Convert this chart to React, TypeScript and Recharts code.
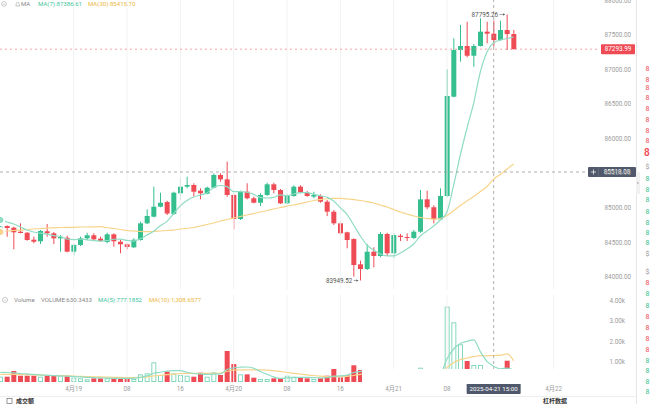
import React from "react";
import { Bar, ComposedChart, Line, ReferenceDot, ReferenceLine, XAxis, YAxis } from "recharts";

const FONT = "Roboto, 'Noto Sans', 'Noto Sans CJK SC', sans-serif";
const UP = "#35bf8e";
const DOWN = "#ef4b55";
const UP_LIGHT = "#86d9bd";
const MA_TEAL = "#8fdcc4";
const MA_GOLD = "#f8d48a";

// hourly candles, 2025-04-18 13:00 .. 2025-04-21 18:00
const opens = [
  84650, 84737, 84713, 84655, 84640, 84539, 84516, 84661, 84632, 84559,
  84568, 84366, 84463, 84559, 84603, 84554, 84506, 84617, 84510, 84473,
  84429, 84535, 84776, 84872, 85016, 85084, 84911, 85210, 85306, 85330,
  85248, 85204, 85291, 85475, 85412, 85186, 84838, 85233, 85138, 85074,
  85186, 85340, 85258, 85065, 85171, 85306, 85219, 85161, 85171, 85089,
  84944, 84776, 84646, 84549, 84183, 84115, 84366, 84304, 84622, 84343,
  84597, 84578, 84564, 84655, 85123, 85008, 84834, 85171, 86607, 87282,
  87340, 87199, 87340, 87547, 87518, 87426, 87571, 87513,
];
const highs = [
  84737, 84747, 84727, 84776, 84650, 84583, 84680, 84766, 84650, 84607,
  84597, 84477, 84583, 84640, 84632, 84583, 84640, 84632, 84535, 84487,
  84559, 84799, 84979, 85306, 85219, 85103, 85233, 85427, 85450, 85355,
  85282, 85306, 85499, 85499, 85667, 85195, 85248, 85355, 85161, 85210,
  85363, 85363, 85272, 85195, 85326, 85326, 85243, 85233, 85195, 85113,
  84969, 84799, 84655, 84559, 84236, 84477, 84429, 84650, 84640, 84632,
  84622, 84632, 84680, 85258, 85248, 85036, 85282, 87003, 87451, 87643,
  87691, 87369, 87740, 87691, 87706, 87706, 87795.26, 87571,
];
const lows = [
  84632, 84582, 84400, 84632, 84525, 84487, 84477, 84583, 84477, 84366,
  84357, 84314, 84448, 84535, 84525, 84510, 84487, 84438, 84343, 84400,
  84419, 84525, 84766, 84863, 85008, 84896, 84896, 85113, 85282, 85161,
  85123, 85195, 85282, 85378, 85161, 84690, 84824, 85123, 85065, 85026,
  85171, 85210, 85055, 85055, 85161, 85210, 85161, 85138, 85074, 84880,
  84752, 84607, 84415, 84004, 83949.52, 84101, 84140, 84285, 84304, 84270,
  84520, 84520, 84549, 84640, 84979, 84776, 84824, 85157, 86598, 87113,
  87176, 87040, 87333, 87379, 87330, 87416, 87282, 87290,
];
const closes = [
  84727, 84708, 84646, 84636, 84535, 84510, 84665, 84632, 84559, 84578,
  84366, 84463, 84559, 84603, 84545, 84520, 84617, 84516, 84473, 84434,
  84539, 84776, 84882, 85016, 85074, 84918, 85219, 85306, 85330, 85233,
  85210, 85291, 85475, 85412, 85186, 84838, 85233, 85138, 85074, 85186,
  85340, 85258, 85065, 85171, 85306, 85219, 85171, 85186, 85089, 84944,
  84776, 84632, 84535, 84173, 84115, 84366, 84304, 84622, 84343, 84607,
  84578, 84564, 84655, 85123, 85008, 84834, 85171, 86617, 87282, 87340,
  87199, 87340, 87547, 87518, 87426, 87571, 87513, 87293.99,
];
const ma7 = [
  84824, 84795, 84766, 84723, 84679, 84650, 84633, 84619, 84597, 84588,
  84549, 84539, 84546, 84538, 84525, 84519, 84525, 84546, 84548, 84529,
  84520, 84554, 84606, 84662, 84742, 84805, 84918, 85028, 85106, 85157,
  85184, 85216, 85295, 85323, 85306, 85235, 85235, 85225, 85194, 85152,
  85142, 85152, 85186, 85175, 85200, 85220, 85219, 85197, 85173, 85155,
  85099, 85002, 84905, 84752, 84593, 84463, 84390, 84333, 84304, 84304,
  84347, 84405, 84477, 84593, 84665, 84737, 84824, 84940, 85330, 85764,
  86154, 86515, 86964, 87253, 87386.61, 87426, 87448, 87470,
];
const ma30 = [
  84650, 84665, 84672, 84679, 84687, 84694, 84701, 84708, 84711, 84716,
  84718, 84718, 84723, 84723, 84726, 84727, 84716, 84701, 84687, 84672,
  84665, 84658, 84655, 84658, 84665, 84672, 84679, 84694, 84701, 84716,
  84737, 84759, 84781, 84810, 84831, 84853, 84875, 84896, 84918, 84940,
  84961, 84983, 85005, 85026, 85041, 85062, 85084, 85106, 85120, 85131,
  85138, 85138, 85128, 85120, 85106, 85091, 85070, 85041, 85012, 84976,
  84940, 84911, 84882, 84860, 84846, 84838, 84846, 84889, 84961, 85034,
  85099, 85164, 85236, 85308, 85415.7, 85482, 85561, 85634,
];
const volumes = [
  262, 262, 543, 311, 311, 311, 262, 311, 311, 311,
  311, 212, 180, 131, 180, 180, 180, 180, 180, 180,
  150, 378, 428, 971, 346, 510, 428, 346, 311, 262,
  461, 262, 477, 346, 1531, 889, 378, 378, 212, 150,
  150, 180, 180, 311, 262, 212, 180, 150, 180, 311,
  642, 232, 331, 825, 593, 520, 380, 560, 480, 450,
  250, 200, 300, 706, 420, 350, 320, 3720, 2949, 1862,
  1037, 840, 840, 538, 630.3433, 400, 1052, 300,
];
const volMa5 = [
  480, 470, 450, 420, 400, 380, 350, 330, 310, 300,
  290, 270, 250, 230, 212, 205, 190, 180, 180, 180,
  190, 230, 300, 430, 480, 540, 560, 560, 480, 420,
  400, 380, 390, 400, 620, 700, 730, 740, 680, 520,
  380, 250, 180, 200, 220, 230, 230, 220, 200, 210,
  290, 300, 340, 470, 520, 540, 520, 560, 500, 480,
  420, 380, 330, 380, 420, 400, 420, 1150, 1630, 1900,
  2010, 2080, 1500, 1020, 777.1852, 650, 690, 590,
];
const volMa10 = [
  380, 380, 380, 370, 360, 350, 340, 330, 320, 310,
  300, 290, 280, 270, 260, 250, 240, 230, 225, 220,
  220, 230, 250, 300, 330, 360, 390, 420, 430, 430,
  430, 430, 430, 440, 520, 590, 600, 600, 600, 600,
  590, 560, 520, 470, 430, 390, 350, 320, 290, 270,
  260, 260, 280, 320, 380, 420, 440, 450, 460, 470,
  450, 430, 400, 420, 430, 420, 400, 720, 967, 1108,
  1186, 1250, 1304, 1288, 1308.6577, 1314, 1387, 1045,
];

const SLOTS = 90;
const tickIndex = [11, 19, 27, 35, 43, 51, 59, 67, 83];
const tickLabels = ["4月19", "08", "16", "4月20", "08", "16", "4月21", "08", "4月22"];
const priceTicks = [84000, 84500, 85000, 85500, 86000, 86500, 87000, 87500, 88000];
const volTicks = [1000, 2000, 3000, 4000];
const lastPrice = 87293.99;
const crossPrice = 85518.08;
const crossIndex = 74;
const crossTime = "2025-04-21 15:00";
const highIndex = 76;
const lowIndex = 54;

const rows = Array.from({ length: SLOTS }, (_, i) =>
  i < opens.length
    ? {
        i,
        open: opens[i],
        high: highs[i],
        low: lows[i],
        close: closes[i],
        range: [lows[i], highs[i]],
        ma7: ma7[i],
        ma30: ma30[i],
        vol: volumes[i],
        volMa5: volMa5[i],
        volMa10: volMa10[i],
      }
    : { i }
);

const Candle = (props: any) => {
  const { x, y, width, height, payload } = props;
  if (!payload || payload.open == null) return <g />;
  const { open, close, high, low } = payload;
  const top = Math.min(y, y + height);
  const bot = Math.max(y, y + height);
  const span = high - low || 1;
  const pix = (v: number) => top + ((high - v) / span) * (bot - top);
  const cx = x + width / 2;
  const color = close >= open ? UP : DOWN;
  const bTop = pix(Math.max(open, close));
  const bBot = pix(Math.min(open, close));
  return (
    <g>
      <line x1={cx} x2={cx} y1={top} y2={bot} stroke={color} strokeWidth={1} />
      <rect x={cx - 2.5} y={bTop} width={5} height={Math.max(1, bBot - bTop)} fill={color} />
    </g>
  );
};

const VolBar = (props: any) => {
  const { x, y, width, height, payload } = props;
  if (!payload || payload.vol == null) return <g />;
  if (payload.close >= payload.open) {
    return (
      <rect x={x + 0.5} y={y + 0.5} width={width - 1} height={Math.max(0, height - 1)}
        fill="#fff" stroke={UP_LIGHT} strokeWidth={1} />
    );
  }
  return <rect x={x} y={y} width={width} height={height} fill={DOWN} />;
};

const PriceTick = (props: any) => (
  <text x={634} y={props.y} dy={2.2} textAnchor="end" fontSize={6.3} fill="#9b9b9b" fontFamily={FONT}>
    {Number(props.payload.value).toFixed(2)}
  </text>
);

const VolTick = (props: any) => (
  <text x={628} y={props.y} dy={2.2} textAnchor="end" fontSize={6.3} fill="#9b9b9b" fontFamily={FONT}>
    {(props.payload.value / 1000).toFixed(2)}k
  </text>
);

const TimeTick = (props: any) => {
  const k = tickIndex.indexOf(props.payload.value);
  return (
    <text x={props.x} y={100.5} textAnchor="middle" fontSize={6.3} fill="#9b9b9b" fontFamily={FONT}>
      {k >= 0 ? tickLabels[k] : ""}
    </text>
  );
};

const PriceTag = (p: any) => {
  const vb = p.viewBox || {};
  const right = vb.x + vb.width;
  return (
    <g>
      <rect x={right + 4} y={vb.y - 5} width={34} height={10} fill="#ef4b55" rx={1} />
      <text x={right + 21} y={vb.y + 2.2} textAnchor="middle" fontSize={6.3} fill="#fff" fontFamily={FONT}>
        {lastPrice.toFixed(2)}
      </text>
    </g>
  );
};

const CrossTag = (p: any) => {
  const vb = p.viewBox || {};
  const right = vb.x + vb.width;
  return (
    <g>
      <rect x={right - 9} y={vb.y - 5} width={48} height={10} fill="#4f596b" rx={1} />
      <line x1={right + 1.5} x2={right + 1.5} y1={vb.y - 5} y2={vb.y + 5} stroke="#6c7587" strokeWidth={0.6} />
      <path d={`M${right - 6} ${vb.y}h5M${right - 3.5} ${vb.y - 2.5}v5`} stroke="#fff" strokeWidth={0.7} />
      <text x={right + 20} y={vb.y + 2.2} textAnchor="middle" fontSize={6.3} fill="#fff" fontFamily={FONT}>
        {crossPrice.toFixed(2)}
      </text>
    </g>
  );
};

const TimeTag = (p: any) => {
  const vb = p.viewBox || {};
  const bottom = vb.y + vb.height;
  return (
    <g>
      <rect x={vb.x - 27} y={bottom + 1} width={54} height={11} fill="#4f596b" rx={1} />
      <text x={vb.x} y={bottom + 8.8} textAnchor="middle" fontSize={6.2} fill="#fff" fontFamily={FONT}>
        {crossTime}
      </text>
    </g>
  );
};

const Extreme = (label: string, gap: number) => (p: any) => (
  <g>
    <text x={p.cx - gap} y={p.cy + 2.2} textAnchor="end" fontSize={6.3} fill="#555" fontFamily={FONT}>
      {label}
    </text>
    <line x1={p.cx - gap + 1.5} x2={p.cx - 2} y1={p.cy} y2={p.cy} stroke="#666" strokeWidth={0.6} />
    <path d={`M${p.cx - 2} ${p.cy}l-2 -1.3v2.6z`} fill="#666" />
  </g>
);

const gridLines = (prefix: string) =>
  tickIndex.map((t) => (
    <ReferenceLine key={prefix + t} x={t} stroke="#f2f2f2" strokeWidth={1} />
  ));

const redRows = [69, 80, 88, 98, 109, 120, 131, 141, 283, 317, 328, 339, 350];
const greenRows = [179, 190, 200, 212, 223, 233, 243, 294, 306, 361, 371, 382, 392];
const greyRows = [167, 254, 272];

export default function App() {
  return (
    <div style={{ position: "fixed", left: 0, top: 0, width: 650, height: 404, overflow: "hidden", background: "#fff" }}>
      <div style={{ position: "absolute", left: -3, top: 0 }}>
        <ComposedChart width={640} height={290} data={rows} margin={{ top: 0, right: 0, bottom: 0, left: 0 }}>
          <XAxis dataKey="i" type="category" hide />
          <YAxis orientation="right" width={40} domain={[83812, 88005]} ticks={priceTicks} interval={0}
            axisLine={false} tickLine={false} tick={PriceTick} allowDataOverflow />
          {gridLines("p")}
          <ReferenceLine x={crossIndex} stroke="#9a9a9a" strokeWidth={0.8} strokeDasharray="3 3" />
          <Bar dataKey="range" barSize={5} shape={Candle} isAnimationActive={false} />
          <Line dataKey="ma30" type="monotone" stroke={MA_GOLD} strokeWidth={1.2} dot={false} isAnimationActive={false} />
          <Line dataKey="ma7" type="monotone" stroke={MA_TEAL} strokeWidth={1.2} dot={false} isAnimationActive={false} />
          <ReferenceLine y={lastPrice} stroke="#f08a90" strokeWidth={0.8} strokeDasharray="2 3" label={PriceTag} />
          <ReferenceLine y={crossPrice} stroke="#9a9a9a" strokeWidth={0.8} strokeDasharray="3 3" label={CrossTag} />
          <ReferenceDot x={highIndex} y={highs[highIndex]} r={0} shape={Extreme(highs[highIndex].toFixed(2), 9)} />
          <ReferenceDot x={lowIndex} y={lows[lowIndex]} r={0} shape={Extreme(lows[lowIndex].toFixed(2), 8)} />
        </ComposedChart>
      </div>

      <div style={{ position: "absolute", left: -3, top: 290 }}>
        <ComposedChart width={640} height={114} data={rows} margin={{ top: 5, right: 0, bottom: 0, left: 0 }}>
          <XAxis dataKey="i" type="category" height={22} ticks={tickIndex} interval={0}
            axisLine={false} tickLine={false} tick={TimeTick} />
          <YAxis orientation="right" width={40} domain={[0, 4296]} ticks={volTicks} interval={0}
            axisLine={false} tickLine={false} tick={VolTick} allowDataOverflow />
          {gridLines("v")}
          <Bar dataKey="vol" barSize={5} shape={VolBar} isAnimationActive={false} />
          <Line dataKey="volMa10" type="monotone" stroke={MA_GOLD} strokeWidth={1.2} dot={false} isAnimationActive={false} />
          <Line dataKey="volMa5" type="monotone" stroke={MA_TEAL} strokeWidth={1.2} dot={false} isAnimationActive={false} />
          <ReferenceLine x={crossIndex} stroke="#9a9a9a" strokeWidth={0.8} strokeDasharray="3 3" label={TimeTag} />
        </ComposedChart>
      </div>

      {/* floating panel edge hiding the lower part of the volume pane */}
      <div style={{ position: "absolute", left: 362, top: 369, width: 238, height: 15, background: "#fff" }} />

      <svg width={650} height={404} style={{ position: "absolute", left: 0, top: 0, pointerEvents: "none" }} fontFamily={FONT}>
        <circle cx={4} cy={4} r={2.4} fill="none" stroke="#aaa" strokeWidth={0.6} />
        <path d="M2.8 3.6l1.2 1.2 1.2-1.2" fill="none" stroke="#aaa" strokeWidth={0.6} />
        <path d="M15.5 6h4.5M16.2 6V3.8a1.5 1.5 0 0 1 3 0V6" fill="none" stroke="#aaa" strokeWidth={0.6} />
        <text x={21} y={6.3} fontSize={6.1} fill="#888">MA</text>
        <text x={38} y={6.3} fontSize={6.1} fill="#3fc59c">MA(7):87386.61</text>
        <text x={88} y={6.3} fontSize={6.1} fill="#ecb73e">MA(30):85415.70</text>

        <circle cx={5} cy={300} r={2.6} fill="none" stroke="#aaa" strokeWidth={0.6} />
        <path d="M3.8 299.6l1.2 1.2 1.2-1.2" fill="none" stroke="#aaa" strokeWidth={0.6} />
        <text x={14} y={302.3} fontSize={6.1} fill="#888">Volume</text>
        <text x={41} y={302.3} fontSize={6.1} fill="#888">VOLUME:630.3433</text>
        <text x={98} y={302.3} fontSize={6.1} fill="#3fc59c">MA(5):777.1852</text>
        <text x={149} y={302.3} fontSize={6.1} fill="#ecb73e">MA(10):1,308.6577</text>

        <line x1={0} x2={636} y1={396.5} y2={396.5} stroke="#eeeeee" strokeWidth={1} />
        <rect x={7} y={398.5} width={5} height={5} fill="none" stroke="#555" strokeWidth={0.6} />
        <text x={16} y={403} fontSize={6} fill="#333" fontWeight={600}>成交额</text>
        <text x={543} y={403} fontSize={6} fill="#333" fontWeight={600}>杠杆数据</text>

        <line x1={636.5} x2={636.5} y1={0} y2={404} stroke="#e6e6e6" strokeWidth={1} />
        <rect x={636} y={172} width={4} height={22} fill="#f1f1f1" />
        <path d="M637.3 181.5l1.6 1.5-1.6 1.5z" fill="#aaa" />
        {redRows.map((y) => (
          <text key={"r" + y} x={645.5} y={y + 2.4} fontSize={7} fill="#ef4b55">8</text>
        ))}
        {greenRows.map((y) => (
          <text key={"g" + y} x={645.5} y={y + 2.4} fontSize={7} fill="#35bf8e">8</text>
        ))}
        {greyRows.map((y) => (
          <text key={"k" + y} x={645.5} y={y + 2.4} fontSize={7} fill="#999">$</text>
        ))}
        <text x={644} y={156} fontSize={10} fill="#ef4b55" fontWeight={600}>8</text>
      </svg>
    </div>
  );
}
